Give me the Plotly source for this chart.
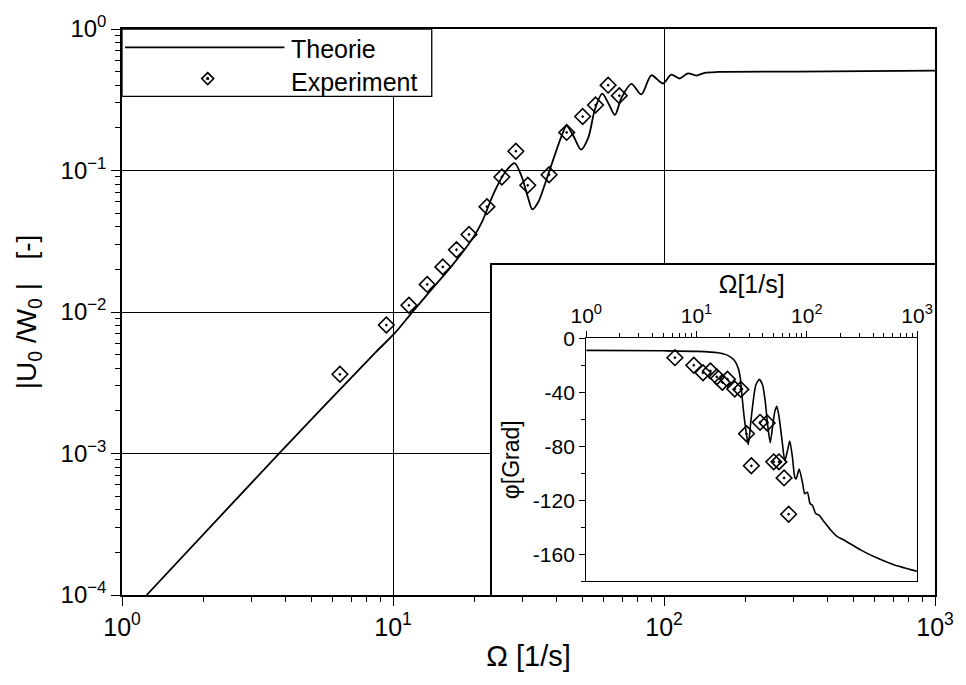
import plotly.graph_objects as go

# ---------------- measured / computed data ----------------
# excitation frequency of the experimental points [1/s]
OMEGA_EXP = [6.37, 9.45, 11.45, 13.37, 15.27, 17.15, 19.08, 22.22, 25.22, 28.40,
             31.43, 37.67, 43.74, 50.1, 55.9, 62.2, 68.4]
# amplitude ratio |U0/W0| measured
AMP_EXP = [0.00363, 0.00809, 0.01116, 0.01566, 0.02084, 0.02754, 0.03532, 0.0555,
           0.0900, 0.1368, 0.0786, 0.0933, 0.1859, 0.2406, 0.2902, 0.401, 0.338]
# phase angle measured [Grad]
PHASE_EXP = [-14.4, -20.0, -25.6, -24.2, -28.6, -32.7, -30.3, -37.6, -37.9, -70.8,
             -94.5, -62.3, -62.8, -91.6, -91.6, -103.5, -130.4]

# theory: amplitude ratio
OMEGA_TH = [1.233, 3.833, 8.64, 10.23, 11.74, 13.91, 16.48, 19.52, 21.29, 23.5,
            25.96, 28.1, 29.88, 31.43, 32.7, 34.4, 36.4, 39.1, 41.7, 43.7,
            46.3, 49.4, 52.6, 55.6, 59.2, 62.6, 65.9, 69.7, 75.8, 82.5,
            89.8, 99.1, 106.4, 114.2, 122.5, 131.5, 141.2, 158, 311, 1000]
AMP_TH = [1.0e-4, 1.02e-3, 5.20e-3, 7.2e-3, 9.9e-3, 0.0145, 0.0212, 0.0324, 0.0432, 0.0687,
          0.0975, 0.1128, 0.0900, 0.0652, 0.0531, 0.0601, 0.0807, 0.1208, 0.1715, 0.207,
          0.176, 0.1404, 0.1715, 0.271, 0.349, 0.294, 0.247, 0.327, 0.410, 0.345,
          0.471, 0.412, 0.476, 0.447, 0.486, 0.469, 0.490, 0.497, 0.500, 0.508]

# theory: phase angle
OMEGA_PH = [1.0, 5.0, 10.27, 15.57, 19.17, 22.0, 23.95, 24.96, 25.8, 27.1,
            28.7, 29.5, 31.1, 32.9, 34.5, 37.1, 39.7, 42.0, 44.1, 46.6,
            49.2, 51.3, 53.5, 56.2, 60.2, 63.1, 66.7, 70.1, 74.1, 77.8,
            80.0, 85.2, 91.2, 95.7, 101.2, 107.1, 112.4, 120.3, 129.1, 143.3,
            164.4, 188.9, 217.1, 306.9, 434.5, 615, 998]
PHASE_TH = [-9.0, -9.3, -9.7, -10.8, -12.7, -16.3, -22.5, -29.8, -42.0, -59.1,
            -73.8, -78.8, -61.5, -44.5, -34.7, -30.5, -34.7, -46.9, -64.0, -77.4,
            -64.0, -54.2, -50.5, -59.1, -78.6, -90.8, -83.5, -76.2, -88.4, -103.1,
            -104.2, -96.9, -106.7, -115.2, -114.1, -122.6, -123.8, -129.9, -131.1, -136.0,
            -142.1, -147.0, -149.5, -156.8, -162.9, -167.8, -172.7]

# tick labels
X_TICKS = [1, 10, 100, 1000]
X_TICKTEXT = ["10<sup>0</sup>", "10<sup>1</sup>", "10<sup>2</sup>", "10<sup>3</sup>"]
Y_TICKS = [1e-4, 1e-3, 1e-2, 1e-1, 1]
Y_TICKTEXT = ["10<sup>−4</sup>", "10<sup>−3</sup>", "10<sup>−2</sup>", "10<sup>−1</sup>", "10<sup>0</sup>"]
PH_TICKS = [0, -40, -80, -120, -160]
PH_TICKTEXT = ["0", "-40", "-80", "-120", "-160"]

# log minor tick positions (2..9 per decade)
X_MINOR = [m * 10 ** e for e in range(0, 3) for m in range(2, 10)]
Y_MINOR = [m * 10.0 ** e for e in range(-4, 0) for m in range(2, 10)]

FONT = "Liberation Sans, Arial, sans-serif"
BLACK = "black"

fig = go.Figure()

# main panel
fig.add_trace(go.Scatter(x=OMEGA_TH, y=AMP_TH, mode="lines",
                         line=dict(color=BLACK, width=1.8, shape="spline", smoothing=0.8),
                         showlegend=False))
fig.add_trace(go.Scatter(x=OMEGA_EXP, y=AMP_EXP, mode="markers",
                         marker=dict(symbol="diamond-open-dot", size=12, color=BLACK,
                                     line=dict(width=1.6, color=BLACK)),
                         showlegend=False))

# white frame that holds the inset
fig.add_trace(go.Scatter(x=[], y=[], xaxis="x2", yaxis="y2", showlegend=False))

# inset: phase
fig.add_trace(go.Scatter(x=OMEGA_PH, y=PHASE_TH, mode="lines", xaxis="x3", yaxis="y3",
                         line=dict(color=BLACK, width=1.6, shape="spline", smoothing=0.6),
                         showlegend=False))
fig.add_trace(go.Scatter(x=OMEGA_EXP, y=PHASE_EXP, mode="markers", xaxis="x3", yaxis="y3",
                         marker=dict(symbol="diamond-open-dot", size=12, color=BLACK,
                                     line=dict(width=1.6, color=BLACK)),
                         showlegend=False))

main_axis = dict(showline=True, linecolor=BLACK, linewidth=1.5, mirror=True,
                 ticks="outside", ticklen=9, tickwidth=1.3, tickcolor=BLACK,
                 showgrid=True, gridcolor=BLACK, gridwidth=1.2)

fig.update_layout(
    width=966, height=685, autosize=False,
    margin=dict(l=122, r=28, t=24, b=90),
    paper_bgcolor="white", plot_bgcolor="white",
    font=dict(family=FONT, color=BLACK),
    xaxis=dict(type="log", range=[0, 3], tickmode="array", tickvals=X_TICKS, ticktext=X_TICKTEXT,
               minor=dict(tickmode="array", tickvals=X_MINOR, ticks="outside", ticklen=5,
                          tickcolor=BLACK, showgrid=False),
               tickfont=dict(family=FONT, size=25, color=BLACK),
               title=dict(text="Ω [1/s]", font=dict(family=FONT, size=29), standoff=6),
               **main_axis),
    yaxis=dict(type="log", range=[-4, 0], tickmode="array", tickvals=Y_TICKS, ticktext=Y_TICKTEXT,
               minor=dict(tickmode="array", tickvals=Y_MINOR, ticks="outside", ticklen=5,
                          tickcolor=BLACK, showgrid=False),
               tickfont=dict(family=FONT, size=24, color=BLACK),
               title=dict(text="|U<sub>0</sub> /W<sub>0</sub> |   [-]", font=dict(family=FONT, size=28),
                          standoff=16),
               **main_axis),
    xaxis2=dict(domain=[0.4547, 1.0], anchor="y2", range=[0, 1], showline=True, mirror=True,
                linecolor=BLACK, linewidth=1.5, showgrid=False, zeroline=False,
                showticklabels=False, ticks=""),
    yaxis2=dict(domain=[0.0, 0.583], anchor="x2", range=[0, 1], showline=True, mirror=True,
                linecolor=BLACK, linewidth=1.5, showgrid=False, zeroline=False,
                showticklabels=False, ticks=""),
    xaxis3=dict(domain=[0.571, 0.978], anchor="y3", side="top", type="log", range=[0, 3],
                tickmode="array", tickvals=X_TICKS, ticktext=X_TICKTEXT,
                showline=True, mirror=True, linecolor=BLACK, linewidth=1.4,
                ticks="outside", ticklen=6, tickwidth=1.2, tickcolor=BLACK,
                minor=dict(tickmode="array", tickvals=X_MINOR, ticks="outside", ticklen=4,
                           tickcolor=BLACK, showgrid=False),
                showgrid=False, tickfont=dict(family=FONT, size=21, color=BLACK),
                title=dict(text="Ω[1/s]", font=dict(family=FONT, size=25), standoff=0)),
    yaxis3=dict(domain=[0.0245, 0.4536], anchor="x3", range=[-180, 0],
                tickmode="array", tickvals=PH_TICKS, ticktext=PH_TICKTEXT,
                showline=True, mirror=True, linecolor=BLACK, linewidth=1.4,
                ticks="outside", ticklen=6, tickwidth=1.2, tickcolor=BLACK,
                minor=dict(dtick=20, ticks="outside", ticklen=4, tickcolor=BLACK, showgrid=False),
                showgrid=False, zeroline=False, tickfont=dict(family=FONT, size=21, color=BLACK),
                title=dict(text="φ[Grad]", font=dict(family=FONT, size=23), standoff=6)),
)

# legend box drawn in the upper left corner of the main panel
LEG_X1, LEG_Y0 = 0.381, 0.881
LEG_LINE_Y = 0.9676
LEG_SYM_X, LEG_SYM_Y = 0.1054, 0.9124
LEG_TXT_X = 0.206
fig.add_shape(type="rect", xref="paper", yref="paper", x0=0, x1=LEG_X1, y0=LEG_Y0, y1=1,
              fillcolor="white", line=dict(color=BLACK, width=1.3), layer="above")
fig.add_shape(type="line", xref="paper", yref="paper", x0=0.0037, x1=0.1998,
              y0=LEG_LINE_Y, y1=LEG_LINE_Y, line=dict(color=BLACK, width=1.8), layer="above")
fig.add_shape(type="path", xref="paper", yref="paper", xsizemode="pixel", ysizemode="pixel",
              xanchor=LEG_SYM_X, yanchor=LEG_SYM_Y, path="M0,6 L6,0 L0,-6 L-6,0 Z",
              line=dict(color=BLACK, width=1.6), layer="above")
fig.add_shape(type="path", xref="paper", yref="paper", xsizemode="pixel", ysizemode="pixel",
              xanchor=LEG_SYM_X, yanchor=LEG_SYM_Y, path="M-1,-1 L1,-1 L1,1 L-1,1 Z",
              fillcolor=BLACK, line=dict(color=BLACK, width=1), layer="above")
fig.add_annotation(x=LEG_TXT_X, y=0.965, xref="paper", yref="paper", text="Theorie",
                   showarrow=False, xanchor="left", yanchor="middle",
                   font=dict(family=FONT, size=25, color=BLACK))
fig.add_annotation(x=LEG_TXT_X, y=0.907, xref="paper", yref="paper", text="Experiment",
                   showarrow=False, xanchor="left", yanchor="middle",
                   font=dict(family=FONT, size=25, color=BLACK))

fig.write_html("out.html")
